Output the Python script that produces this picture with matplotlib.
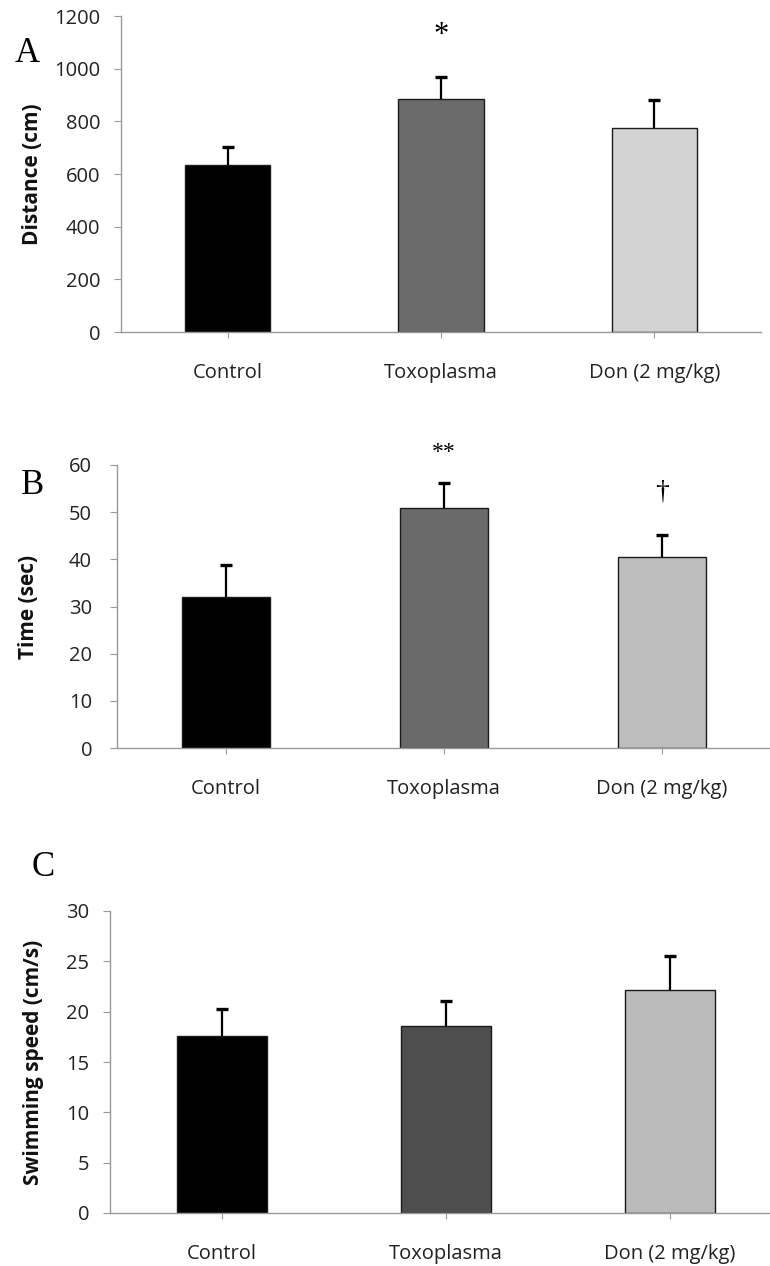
import matplotlib
matplotlib.use("Agg")
import matplotlib.pyplot as plt
import numpy as np

categories = ["Control", "Toxoplasma", "Don (2 mg/kg)"]

distance_mean = [634, 884, 776]
distance_err = [69, 85, 105]

time_mean = [32.1, 50.8, 40.5]
time_err = [6.7, 5.3, 4.7]

speed_mean = [17.6, 18.6, 22.2]
speed_err = [2.7, 2.5, 3.3]

FONT = ["Open Sans", "DejaVu Sans"]
SERIF = ["Liberation Serif", "DejaVu Serif"]

W, H = 770, 1266
fig = plt.figure(figsize=(W/100, H/100), dpi=100)

def rect(l, r, t, b):
    return [l/W, 1 - b/H, (r - l)/W, (b - t)/H]

panels = [
    dict(rect=rect(121, 761, 16, 332),
         mean=distance_mean, err=distance_err, ylim=1200, step=200,
         ylabel="Distance (cm)", colors=["#000000", "#6b6b6b", "#d3d3d3"],
         xlim=(-0.5, 2.5), letter="A", letter_xy=(27, 54), ypad=10,
         ylab_x=32),
    dict(rect=rect(117, 771, 465, 748),
         mean=time_mean, err=time_err, ylim=60, step=10,
         ylabel="Time (sec)", colors=["#000000", "#6a6a6a", "#bdbdbd"],
         xlim=(-0.5, 2.5), letter="B", letter_xy=(33, 485), ypad=13,
         ylab_x=28),
    dict(rect=rect(110, 770, 911, 1213),
         mean=speed_mean, err=speed_err, ylim=30, step=5,
         ylabel="Swimming speed (cm/s)", colors=["#000000", "#4e4e4e", "#bbbbbb"],
         xlim=(-0.5, 2.446), letter="C", letter_xy=(43, 867), ypad=10,
         ylab_x=34),
]

axes = []
for p in panels:
    ax = fig.add_axes(p["rect"])
    x = np.arange(len(categories))
    ax.bar(x, p["mean"], width=0.4, color=p["colors"], edgecolor="#1a1a1a",
           linewidth=1.0, zorder=2)
    _, caps, _ = ax.errorbar(x, p["mean"], yerr=[[0]*3, p["err"]], fmt="none",
                             ecolor="black", elinewidth=1.6, capsize=4, capthick=2.4,
                             zorder=3)
    for cl in caps:
        if np.allclose(cl.get_ydata(), p["mean"]):
            cl.set_visible(False)
    ax.set_xlim(*p["xlim"])
    ax.set_ylim(0, p["ylim"])
    ax.set_yticks(range(0, p["ylim"] + 1, p["step"]))
    ax.set_xticks(x)
    ax.set_xticklabels(categories)
    for lab in ax.get_xticklabels() + ax.get_yticklabels():
        lab.set_family(FONT)
        lab.set_fontsize(14.5)
        lab.set_color("#222222")
    ax.tick_params(axis="x", length=4, color="#999999", pad=18)
    ax.tick_params(axis="y", length=5, color="#999999", pad=p["ypad"])
    for s in ["top", "right"]:
        ax.spines[s].set_visible(False)
    for s in ["left", "bottom"]:
        ax.spines[s].set_color("#999999")
        ax.spines[s].set_linewidth(1.0)
    y0 = p["rect"][1] + p["rect"][3] / 2
    fig.text(p["ylab_x"]/W, y0, p["ylabel"], rotation=90, ha="center", va="center",
             fontsize=15, fontweight="bold", family=FONT, color="#111111")
    fig.text(p["letter_xy"][0]/W, 1 - p["letter_xy"][1]/H, p["letter"],
             ha="center", va="center", fontsize=25, family=SERIF)
    axes.append(ax)

axes[0].text(1, 1125, "*", ha="center", va="center", fontsize=22, family=SERIF,
             clip_on=False)
axes[1].text(1, 62.7, "**", ha="center", va="center", fontsize=17, family=SERIF,
             clip_on=False)
axes[1].text(2, 54.3, "\u2020", ha="center", va="center", fontsize=20, family=SERIF,
             clip_on=False)

fig.savefig("out.png", dpi=100)
